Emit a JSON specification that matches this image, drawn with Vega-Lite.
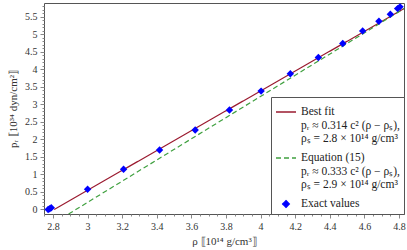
{
  "$schema": "https://vega.github.io/schema/vega-lite/v6.json",
  "width": 360,
  "height": 211,
  "autosize": {"type": "none"},
  "padding": {"left": 44, "top": 3, "right": 3, "bottom": 36},
  "config": {
    "view": {"stroke": "#555", "strokeWidth": 1},
    "font": "Liberation Serif",
    "axis": {
      "labelFont": "Liberation Serif",
      "labelFontSize": 10,
      "labelColor": "#333",
      "titleFont": "Liberation Serif",
      "titleFontSize": 11,
      "titleFontWeight": "normal",
      "titleColor": "#333",
      "domain": false,
      "grid": false,
      "tickColor": "#888",
      "labelOverlap": false,
      "labelFlush": false
    },
    "legend": {
      "labelFont": "Liberation Serif",
      "labelFontSize": 11.5,
      "labelColor": "#222"
    }
  },
  "datasets": {
    "lines": [
      {"series": "Best fit", "rho": 2.807, "p": 0.0},
      {"series": "Best fit", "rho": 4.829, "p": 5.73},
      {"series": "Equation (15)", "rho": 2.89, "p": -0.13},
      {"series": "Equation (15)", "rho": 4.829, "p": 5.73}
    ],
    "points": [
      {"series": "Exact values", "rho": 2.772, "p": 0.0},
      {"series": "Exact values", "rho": 2.781, "p": 0.02},
      {"series": "Exact values", "rho": 2.79, "p": 0.05},
      {"series": "Exact values", "rho": 3.0, "p": 0.575},
      {"series": "Exact values", "rho": 3.208, "p": 1.145},
      {"series": "Exact values", "rho": 3.416, "p": 1.695},
      {"series": "Exact values", "rho": 3.622, "p": 2.265},
      {"series": "Exact values", "rho": 3.82, "p": 2.835},
      {"series": "Exact values", "rho": 4.003, "p": 3.376},
      {"series": "Exact values", "rho": 4.172, "p": 3.87},
      {"series": "Exact values", "rho": 4.334, "p": 4.336},
      {"series": "Exact values", "rho": 4.475, "p": 4.735},
      {"series": "Exact values", "rho": 4.59, "p": 5.094},
      {"series": "Exact values", "rho": 4.684, "p": 5.37},
      {"series": "Exact values", "rho": 4.75, "p": 5.57},
      {"series": "Exact values", "rho": 4.792, "p": 5.73},
      {"series": "Exact values", "rho": 4.806, "p": 5.78}
    ]
  },
  "encoding": {
    "x": {
      "field": "rho",
      "type": "quantitative",
      "scale": {"domain": [2.748, 4.829], "nice": false, "zero": false},
      "axis": {
        "title": "ρ ⟦10¹⁴ g/cm³⟧",
        "titlePadding": 4,
        "values": [2.75, 2.8, 2.85, 2.9, 2.95, 3.0, 3.05, 3.1, 3.15, 3.2, 3.25, 3.3, 3.35, 3.4, 3.45, 3.5, 3.55, 3.6, 3.65, 3.7, 3.75, 3.8, 3.85, 3.9, 3.95, 4.0, 4.05, 4.1, 4.15, 4.2, 4.25, 4.3, 4.35, 4.4, 4.45, 4.5, 4.55, 4.6, 4.65, 4.7, 4.75, 4.8],
        "labelExpr": "abs(datum.value*5 - round(datum.value*5)) < 0.001 ? format(datum.value, '.2~f') : ''",
        "tickSize": {"condition": {"test": "abs(datum.value*5 - round(datum.value*5)) < 0.001", "value": 4}, "value": 2},
        "labelPadding": 3
      }
    },
    "y": {
      "field": "p",
      "type": "quantitative",
      "scale": {"domain": [-0.13, 5.89], "nice": false, "zero": false},
      "axis": {
        "title": "pᵣ ⟦10³⁴ dyn/cm²⟧",
        "titlePadding": 6,
        "values": [0, 0.1, 0.2, 0.3, 0.4, 0.5, 0.6, 0.7, 0.8, 0.9, 1.0, 1.1, 1.2, 1.3, 1.4, 1.5, 1.6, 1.7, 1.8, 1.9, 2.0, 2.1, 2.2, 2.3, 2.4, 2.5, 2.6, 2.7, 2.8, 2.9, 3.0, 3.1, 3.2, 3.3, 3.4, 3.5, 3.6, 3.7, 3.8, 3.9, 4.0, 4.1, 4.2, 4.3, 4.4, 4.5, 4.6, 4.7, 4.8, 4.9, 5.0, 5.1, 5.2, 5.3, 5.4, 5.5, 5.6, 5.7, 5.8],
        "labelExpr": "abs(datum.value*2 - round(datum.value*2)) < 0.001 ? format(datum.value, '.1~f') : ''",
        "tickSize": {"condition": {"test": "abs(datum.value*2 - round(datum.value*2)) < 0.001", "value": 4}, "value": 2},
        "labelPadding": 3
      }
    }
  },
  "layer": [
    {
      "data": {"name": "lines"},
      "mark": {"type": "line", "clip": true, "strokeWidth": 1.2},
      "encoding": {
        "color": {
          "field": "series",
          "type": "nominal",
          "scale": {"domain": ["Best fit", "Equation (15)", "Exact values"], "range": ["#9B1B30", "#3FA03F", "#0000FF"]},
          "legend": {
            "title": null,
            "orient": "bottom-right",
            "offset": 0,
            "padding": 4,
            "strokeColor": "#555",
            "fillColor": "white",
            "rowPadding": 2,
            "symbolStrokeWidth": 1.3,
            "labelLimit": 250,
            "labelExpr": "datum.label == 'Best fit' ? ['Best fit', 'pᵣ ≈ 0.314 c² (ρ − ρₛ),', 'ρₛ = 2.8 × 10¹⁴ g/cm³'] : datum.label == 'Equation (15)' ? ['Equation (15)', 'pᵣ ≈ 0.333 c² (ρ − ρₛ),', 'ρₛ = 2.9 × 10¹⁴ g/cm³'] : datum.label",
            "encode": {
              "symbols": {
                "update": {
                  "fill": {"scale": "color", "field": "value"},
                  "stroke": {"scale": "color", "field": "value"},
                  "size": {"signal": "datum.value == 'Exact values' ? 45 : 400"}
                }
              }
            }
          }
        },
        "strokeDash": {
          "field": "series",
          "type": "nominal",
          "scale": {"domain": ["Best fit", "Equation (15)", "Exact values"], "range": [[1, 0], [5, 3], [1, 0]]},
          "legend": null
        }
      }
    },
    {
      "data": {"name": "points"},
      "mark": {"type": "point", "filled": true, "size": 55, "opacity": 1},
      "encoding": {
        "color": {"field": "series", "type": "nominal"},
        "shape": {
          "field": "series",
          "type": "nominal",
          "scale": {"domain": ["Best fit", "Equation (15)", "Exact values"], "range": ["stroke", "stroke", "diamond"]}
        }
      }
    }
  ]
}
